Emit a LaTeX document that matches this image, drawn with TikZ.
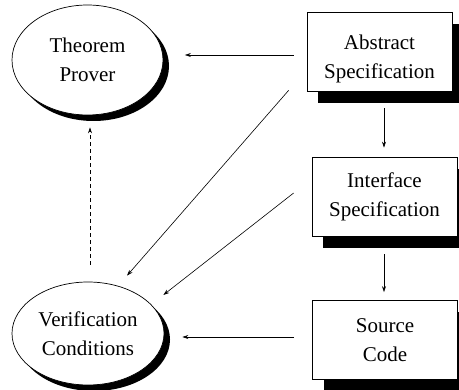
\documentclass[tikz,border=0pt]{standalone}
\usepackage{fontspec}
\setmainfont{Liberation Serif}
\usetikzlibrary{shapes.geometric,shadows,arrows.meta}
\begin{document}
\begin{tikzpicture}[x=1pt,y=-1pt,
  txt/.style={font=\fontsize{21}{29}\selectfont, align=center},
  ell/.style={ellipse, draw, fill=white, line width=0.7pt, inner sep=0pt,
    drop shadow={fill=black, opacity=1, shadow xshift=6pt, shadow yshift=-6pt}, txt},
  box/.style={rectangle, draw, fill=white, line width=0.7pt, inner sep=0pt,
    minimum width=145pt, minimum height=79pt,
    drop shadow={fill=black, opacity=1, shadow xshift=11pt, shadow yshift=-12pt}, txt},
  arr/.style={-{Stealth[length=6pt,width=4pt]}, line width=0.6pt},
  darr/.style={arr, dash pattern=on 4pt off 3pt}]
\useasboundingbox (0,0) rectangle (459,390);
\fill[white] (0,0) rectangle (459,390);
\node[ell, minimum width=151pt, minimum height=110pt] (thm) at (87.5,60) {Theorem\\Prover};
\node[ell, minimum width=152pt, minimum height=103pt] (vc) at (88,333.5) {Verification\\Conditions};
\node[box] (abs) at (379.5,51.5) {};
\node[txt] (abst) at (379.5,58.5) {Abstract\\Specification};
\node[box] (int) at (384.5,196.5) {Interface\\Specification};
\node[box] (src) at (385,340) {Source\\Code};
% connectors
\draw[arr, shorten <=13pt, shorten >=21.5pt] ([yshift=-3.5pt]abs.west) -- ([yshift=5pt]thm.east);
\draw[arr, shorten <=17pt, shorten >=9pt] ([xshift=4.5pt]abs.south) -- ([xshift=-0.5pt]int.north);
\draw[arr, shorten <=18pt, shorten >=8pt] ([xshift=-0.5pt]int.south) -- ([xshift=-1pt]src.north);
\draw[arr, shorten <=18pt, shorten >=18pt] ([yshift=3pt]src.west) -- ([yshift=-3.5pt]vc.east);
\draw[arr] ([xshift=-18pt,yshift=1pt]abs.south west) -- ([xshift=39pt,yshift=6pt]vc.north);
\draw[arr] ([xshift=-18pt,yshift=3.5pt]int.west) -- ([xshift=-1pt,yshift=38.5pt]vc.east);
\draw[darr] ([xshift=2pt,yshift=17pt]vc.north) -- ([xshift=2.5pt,yshift=-12pt]thm.south);
\end{tikzpicture}
\end{document}
